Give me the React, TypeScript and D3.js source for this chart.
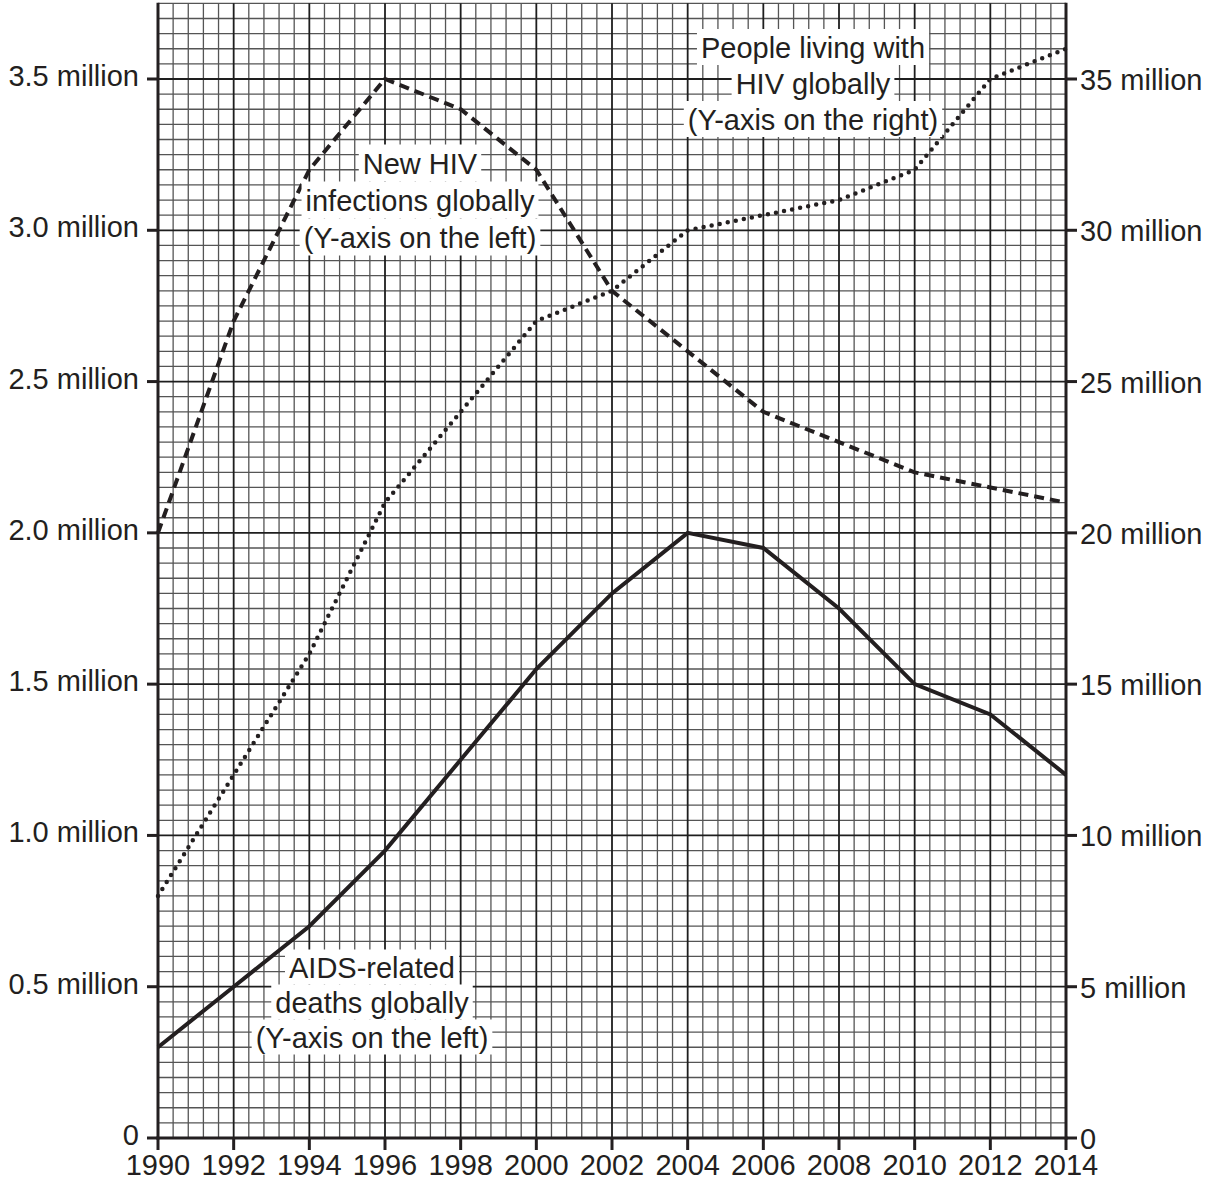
import React, { useLayoutEffect, useRef, useState } from "react";
import * as d3 from "d3";

const years = [1990, 1992, 1994, 1996, 1998, 2000, 2002, 2004, 2006, 2008, 2010, 2012, 2014];
const aidsDeaths = [0.3, 0.5, 0.7, 0.95, 1.25, 1.55, 1.8, 2.0, 1.95, 1.75, 1.5, 1.4, 1.2];
const newInfections = [2.0, 2.7, 3.2, 3.5, 3.4, 3.2, 2.8, 2.6, 2.4, 2.3, 2.2, 2.15, 2.1];
const peopleLiving = [8, 12, 16, 21, 24, 27, 28, 30, 30.5, 31, 32, 35, 36];

const leftTicks = [0, 0.5, 1.0, 1.5, 2.0, 2.5, 3.0, 3.5];
const leftTickLabels = ["0", "0.5 million", "1.0 million", "1.5 million", "2.0 million", "2.5 million", "3.0 million", "3.5 million"];
const rightTicks = [0, 5, 10, 15, 20, 25, 30, 35];
const rightTickLabels = ["0", "5 million", "10 million", "15 million", "20 million", "25 million", "30 million", "35 million"];
const xTicks = years;

const labelNew = ["New HIV", "infections globally", "(Y-axis on the left)"];
const labelLiving = ["People living with", "HIV globally", "(Y-axis on the right)"];
const labelDeaths = ["AIDS-related", "deaths globally", "(Y-axis on the left)"];

const W = 1213;
const H = 1182;
const X0 = 158, X1 = 1066, YB = 1138, Y35 = 79;
const FONT = "Arial, 'Liberation Sans', Helvetica, sans-serif";
const INK = "#231f20";

const x = d3.scaleLinear().domain([1990, 2014]).range([X0, X1]);
const yL = d3.scaleLinear().domain([0, 3.5]).range([YB, Y35]);
const yR = d3.scaleLinear().domain([0, 35]).range([YB, Y35]);
const yTop = yL(3.75);

function LabelLine({ cx, cy, text, h }: { cx: number; cy: number; text: string; h: number }) {
  const ref = useRef<SVGTextElement>(null);
  const [w, setW] = useState(text.length * 14);
  useLayoutEffect(() => {
    if (ref.current) setW(ref.current.getComputedTextLength());
  }, [text]);
  return (
    <g>
      <rect x={cx - w / 2 - 4} y={cy - h / 2} width={w + 8} height={h} fill="#fff" />
      <text ref={ref} x={cx} y={cy + 10.5} textAnchor="middle" fontSize={29} fontFamily={FONT} fill={INK}>
        {text}
      </text>
    </g>
  );
}

function Label({ cx, cy, lines, spacing }: { cx: number; cy: number; lines: string[]; spacing: number }) {
  return (
    <g>
      {lines.map((t, i) => (
        <LabelLine key={i} cx={cx} cy={cy + i * spacing} text={t} h={spacing} />
      ))}
    </g>
  );
}

export default function App() {
  const minorX = d3.range(0, 61).map((i) => 1990 + i * 0.4);
  const minorY = d3.range(0, 76).map((i) => i * 0.05);

  const lineL = d3
    .line<number>()
    .x((_, i) => x(years[i]))
    .y((d) => yL(d));
  const lineR = d3
    .line<number>()
    .x((_, i) => x(years[i]))
    .y((d) => yR(d));

  return (
    <svg width={W} height={H} style={{ position: "absolute", left: 0, top: 0, background: "#fff" }}>
      <rect x={0} y={0} width={W} height={H} fill="#fff" />
      {/* minor grid */}
      <g stroke="#555" strokeWidth={1.3}>
        {minorX.map((v, i) =>
          i % 5 === 0 ? null : <line key={"mx" + i} x1={x(v)} x2={x(v)} y1={yTop} y2={YB} />
        )}
        {minorY.map((v, i) =>
          i % 10 === 0 ? null : <line key={"my" + i} x1={X0} x2={X1} y1={yL(v)} y2={yL(v)} />
        )}
      </g>
      {/* major grid */}
      <g stroke="#1e1e1e" strokeWidth={1.8}>
        {xTicks.map((v) => (
          <line key={"Mx" + v} x1={x(v)} x2={x(v)} y1={yTop} y2={YB} />
        ))}
        {leftTicks.map((v) => (
          <line key={"My" + v} x1={X0} x2={X1} y1={yL(v)} y2={yL(v)} />
        ))}
      </g>
      {/* axes */}
      <g stroke={INK} strokeWidth={3}>
        <line x1={X0} x2={X0} y1={yTop - 0.5} y2={YB + 1.5} />
        <line x1={X1} x2={X1} y1={yTop - 0.5} y2={YB + 1.5} />
        <line x1={X0 - 1.5} x2={X1 + 1.5} y1={YB} y2={YB} />
        {leftTicks.map((v) => (
          <line key={"lt" + v} x1={X0 - 11} x2={X0} y1={yL(v)} y2={yL(v)} />
        ))}
        {rightTicks.map((v) => (
          <line key={"rt" + v} x1={X1} x2={X1 + 11} y1={yR(v)} y2={yR(v)} />
        ))}
        {xTicks.map((v) => (
          <line key={"xt" + v} x1={x(v)} x2={x(v)} y1={YB} y2={YB + 12} />
        ))}
      </g>
      {/* tick labels */}
      <g fontSize={29} fontFamily={FONT} fill={INK}>
        {leftTicks.map((v, i) => (
          <text key={"ll" + v} x={X0 - 19} y={yL(v) + 7} textAnchor="end">
            {leftTickLabels[i]}
          </text>
        ))}
        {rightTicks.map((v, i) => (
          <text key={"rl" + v} x={X1 + 14} y={yR(v) + 11} textAnchor="start">
            {rightTickLabels[i]}
          </text>
        ))}
        {xTicks.map((v) => (
          <text key={"xl" + v} x={x(v)} y={1175} textAnchor="middle">
            {String(v)}
          </text>
        ))}
      </g>
      {/* series */}
      <path d={lineL(aidsDeaths) || ""} fill="none" stroke={INK} strokeWidth={4} strokeLinejoin="miter" />
      <path d={lineL(newInfections) || ""} fill="none" stroke={INK} strokeWidth={4} strokeDasharray="10 6" />
      <path
        d={lineR(peopleLiving) || ""}
        fill="none"
        stroke={INK}
        strokeWidth={4.5}
        strokeDasharray="0 8.2"
        strokeLinecap="round"
      />
      {/* labels */}
      <Label cx={420} cy={163} lines={labelNew} spacing={37} />
      <Label cx={813} cy={47} lines={labelLiving} spacing={36} />
      <Label cx={372} cy={967} lines={labelDeaths} spacing={35} />
    </svg>
  );
}
